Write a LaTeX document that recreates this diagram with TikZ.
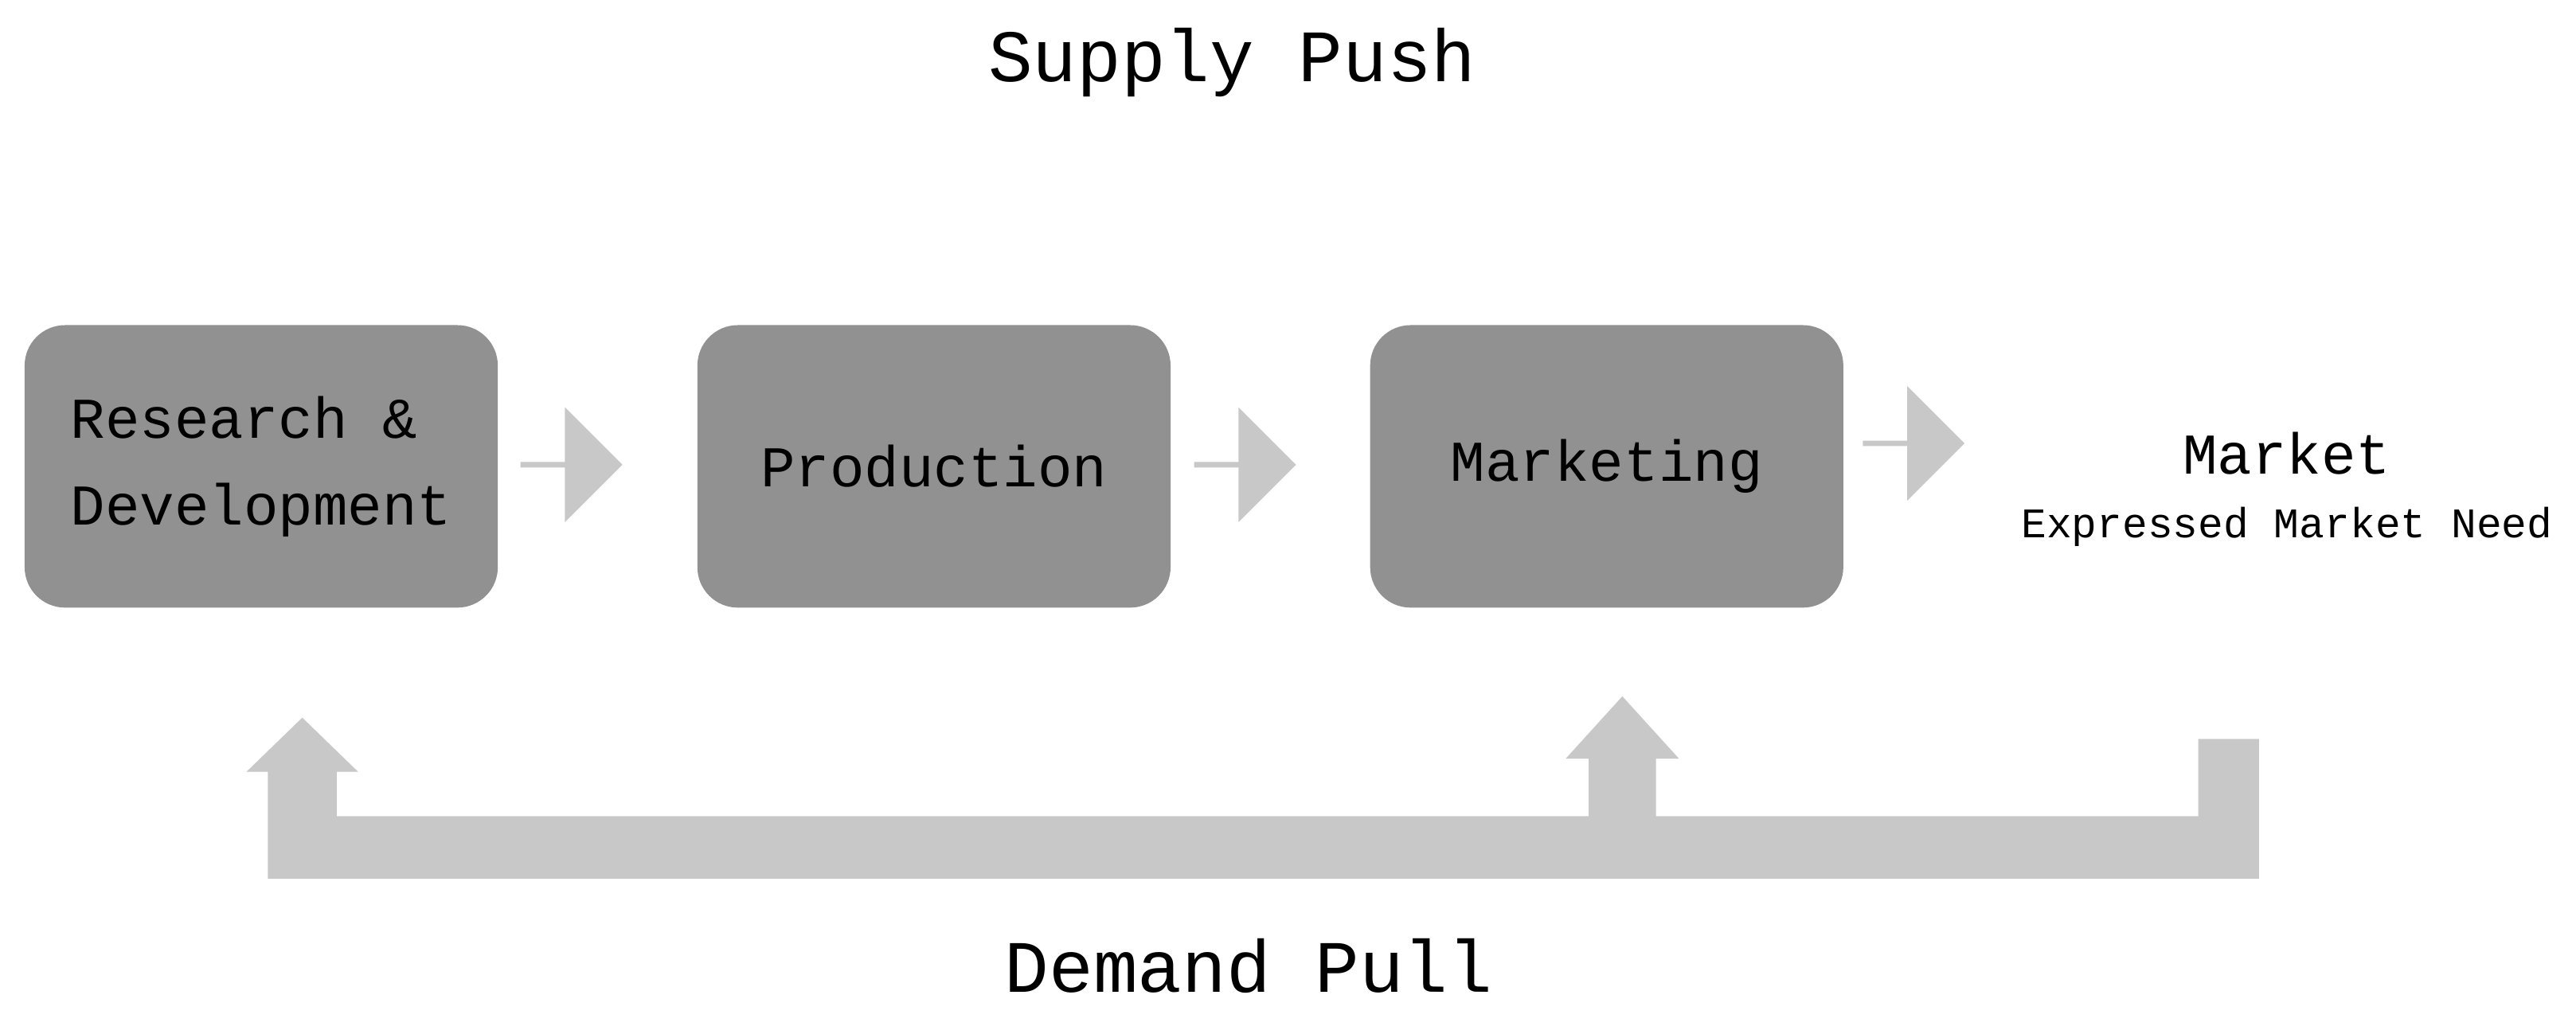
\documentclass[tikz,border=0pt]{standalone}
\usepackage{fontspec}
\setmainfont{Liberation Mono}
\usetikzlibrary{shapes.arrows, positioning, calc}
\definecolor{boxgray}{RGB}{145,145,145}
\definecolor{arrowgray}{RGB}{200,200,200}
\tikzset{
  stage/.style={fill=boxgray, rounded corners=7pt, minimum width=2.88cm, minimum height=1.72cm, font=\fontsize{10}{15}\selectfont, align=left, inner sep=0pt},
  fwd/.style={single arrow, fill=arrowgray, minimum width=0.7cm, single arrow head extend=0.14cm, minimum height=0.62cm, inner sep=0pt, single arrow tip angle=90},
  title/.style={font=\fontsize{12.8}{15}\selectfont}
}
\begin{document}
\begin{tikzpicture}
  \useasboundingbox (0,0) rectangle (15.68,6.27);
  % stages
  \node[stage] (rd) at (1.59,3.43) {Research \&\\Development};
  \node[stage] (prod) at (5.685,3.43) {Production};
  \node[stage] (mkt) at (9.78,3.43) {Marketing};
  \node[align=center] (market) at (13.92,3.29) {\fontsize{10}{12}\selectfont Market\\[-1pt]\fontsize{7.3}{9}\selectfont Expressed Market Need};

  % forward steps
  \node[fwd] (s1) at (3.47,3.44) {};
  \node[fwd] (s2) at (7.57,3.44) {};
  \node[fwd] (s3) at (11.64,3.57) {};

  % titles
  \node[title] (push) at (7.5,5.89) {Supply Push};
  \node[title] (pull) at (7.6,0.39) {Demand Pull};

  % feedback
  \fill[arrowgray] (13.75,1.77) -- (13.75,0.92) -- (1.63,0.92) -- (1.63,1.57) -- (1.50,1.57)
    -- (1.84,1.90) -- (2.18,1.57) -- (2.05,1.57) -- (2.05,1.30) -- (9.67,1.30) -- (9.67,1.65)
    -- (9.53,1.65) -- (9.875,2.03) -- (10.22,1.65) -- (10.08,1.65) -- (10.08,1.30)
    -- (13.38,1.30) -- (13.38,1.77) -- cycle;
\end{tikzpicture}
\end{document}
